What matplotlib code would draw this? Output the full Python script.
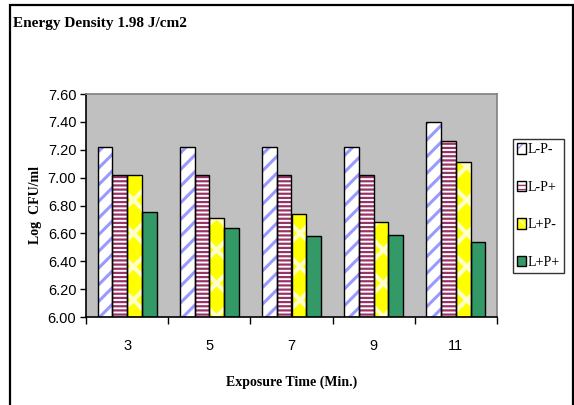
import numpy as np
import matplotlib
matplotlib.use("Agg")
import matplotlib.pyplot as plt
import matplotlib.patches as mpatches
from matplotlib.legend_handler import HandlerTuple

# exposure times and log counts for each treatment
times = ["3", "5", "7", "9", "11"]
series_names = ["L-P-", "L-P+", "L+P-", "L+P+"]
lp_minus = [7.22, 7.22, 7.22, 7.22, 7.40]
lp_plus = [7.02, 7.02, 7.02, 7.02, 7.26]
lplus_p_minus = [7.02, 6.71, 6.74, 6.68, 7.11]
lplus_p_plus = [6.75, 6.64, 6.58, 6.59, 6.54]
y_ticks = [6.00, 6.20, 6.40, 6.60, 6.80, 7.00, 7.20, 7.40, 7.60]

# face colour, hatch, hatch colour, hatch line width
styles = [
    ("white", "//", "#9999FF", 2.2),
    ("white", "----", "#993366", 1.6),
    ("#FFFF00", "x", "#FFFFCC", 3.0),
    ("#339966", "", "#339966", 1.0),
]

serif = "Liberation Serif"
sans = "Liberation Sans"

fig = plt.figure(figsize=(5.74, 4.05), dpi=100)
ax = fig.add_axes([86 / 574, 1 - 317 / 405, (497 - 86) / 574, (317 - 94) / 405])
ax.set_facecolor("#C0C0C0")

x = np.arange(len(times))
width = 0.18
handles = []
for i, (vals, (face, hatch, hcol, hlw)) in enumerate(
        zip([lp_minus, lp_plus, lplus_p_minus, lplus_p_plus], styles)):
    pos = x + (i - 1.5) * width
    with plt.rc_context({"hatch.linewidth": hlw}):
        ax.bar(pos, np.array(vals) - 6.0, width, bottom=6.0, color=face,
               hatch=hatch, edgecolor=hcol, linewidth=0, zorder=2)
        ax.bar(pos, np.array(vals) - 6.0, width, bottom=6.0, fill=False,
               edgecolor="black", linewidth=1.0, zorder=3)
        h1 = mpatches.Patch(facecolor=face, hatch=hatch, edgecolor=hcol, linewidth=0)
    h2 = mpatches.Patch(fill=False, edgecolor="black", linewidth=1.0)
    handles.append((h1, h2))

ax.set_xlim(-0.5, len(times) - 0.5)
ax.set_ylim(6.0, 7.6)
ax.set_yticks(y_ticks)
ax.set_yticklabels([f"{v:.2f}" for v in y_ticks], fontfamily=sans, fontsize=10.5)
ax.set_xticks(x)
ax.set_xticklabels(times, fontfamily=sans, fontsize=10.5)
ax.set_xticks(np.arange(len(times) + 1) - 0.5, minor=True)
ax.tick_params(axis="x", which="major", length=0, pad=16)
ax.tick_params(axis="x", which="minor", length=5, width=1, direction="out")
ax.tick_params(axis="y", length=4, width=1, direction="out", pad=3)

for side in ["top", "right"]:
    ax.spines[side].set_color("#808080")
    ax.spines[side].set_linewidth(1.2)
for side in ["left", "bottom"]:
    ax.spines[side].set_color("black")
    ax.spines[side].set_linewidth(1.2)

ax.set_xlabel("Exposure Time (Min.)", fontfamily=serif, fontweight="bold",
              fontsize=10, labelpad=16)
ax.set_ylabel("Log  CFU/ml", fontfamily=serif, fontweight="bold",
              fontsize=10, labelpad=4)

fig.text(13 / 574, 1 - 23 / 405, "Energy Density 1.98 J/cm2", fontfamily=serif,
         fontweight="bold", fontsize=11, va="center", ha="left")

leg = fig.legend(handles, series_names,
                 handler_map={tuple: HandlerTuple(ndivide=1, pad=0)},
                 loc="upper left", bbox_to_anchor=(513 / 574, 1 - 139 / 405),
                 prop={"family": serif, "size": 10}, frameon=True, fancybox=False,
                 edgecolor="black", handlelength=0.6, handleheight=0.8,
                 handletextpad=0.15, labelspacing=1.75, borderpad=0.3,
                 borderaxespad=0)
leg.get_frame().set_linewidth(1.0)

# outer chart border
fig.patches.append(mpatches.Rectangle((10 / 574, -0.02), 563 / 574, 0.02 + 1 - 5 / 405,
                                      transform=fig.transFigure, fill=False,
                                      edgecolor="black", linewidth=1.6))

fig.savefig("out.png", dpi=100)
